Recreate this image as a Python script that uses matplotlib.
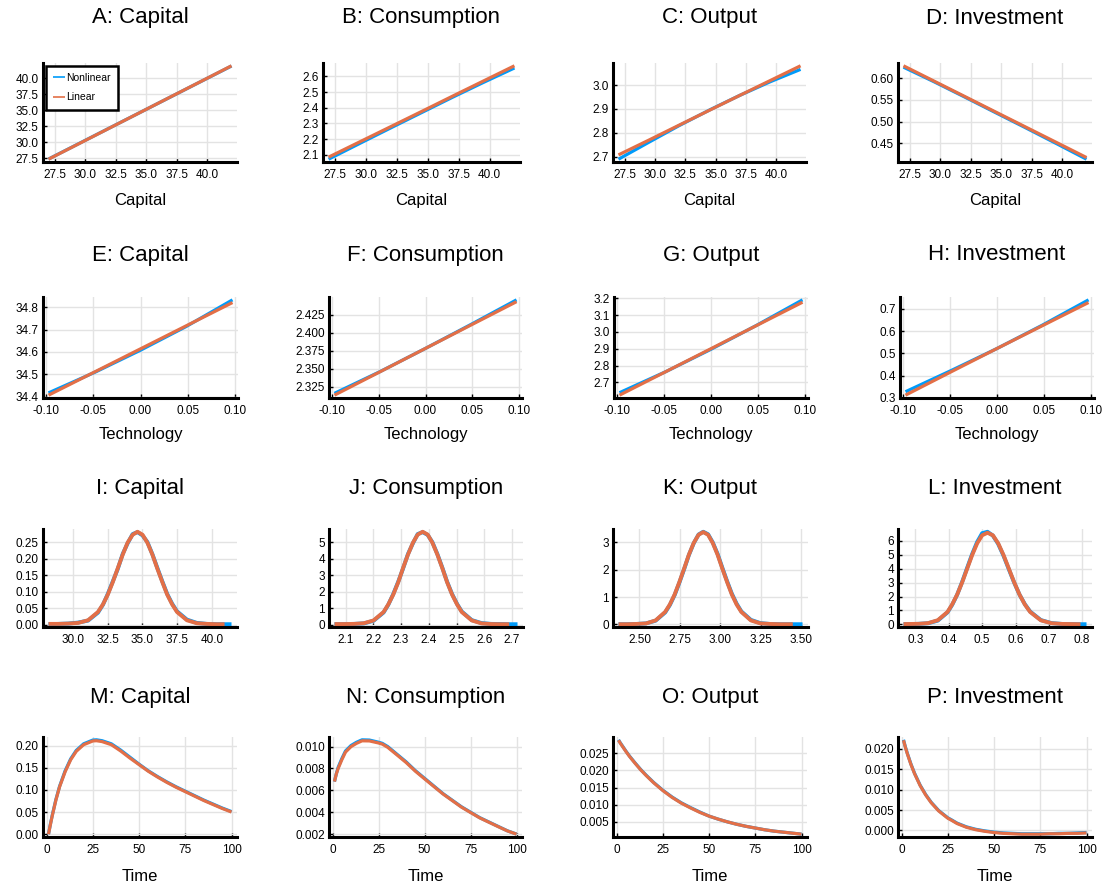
import matplotlib
matplotlib.use("Agg")
import matplotlib.pyplot as plt
from matplotlib.ticker import FixedLocator, FormatStrFormatter

plt.rcParams["font.family"] = ["Liberation Sans", "DejaVu Sans"]
plt.rcParams["axes.unicode_minus"] = False

BLUE = "#009BFA"
ORANGE = "#E36F47"

# ---------------- data ----------------
# Row 1: policy functions over capital
cap_grid = [27.0, 29.5, 32.0, 34.6, 37.0, 39.5, 42.0]
A_non = [27.40, 29.82, 32.24, 34.75, 37.07, 39.49, 41.90]
A_lin = [27.38, 29.80, 32.23, 34.75, 37.08, 39.50, 41.93]
B_non = [2.072, 2.172, 2.271, 2.373, 2.467, 2.562, 2.654]
B_lin = [2.085, 2.182, 2.279, 2.380, 2.474, 2.571, 2.668]
C_non = [2.689, 2.760, 2.830, 2.898, 2.957, 3.014, 3.066]
C_lin = [2.707, 2.769, 2.832, 2.897, 2.957, 3.019, 3.081]
D_non = [0.6256, 0.592, 0.557, 0.520, 0.486, 0.450, 0.4135]
D_lin = [0.6287, 0.5935, 0.5583, 0.5216, 0.4878, 0.4526, 0.4173]

# Row 2: policy functions over technology
tech_grid = [-0.097, -0.048, 0.0, 0.048, 0.097]
E_non = [34.418, 34.510, 34.608, 34.713, 34.832]
E_lin = [34.408, 34.512, 34.614, 34.716, 34.820]
F_non = [2.3155, 2.346, 2.378, 2.411, 2.4455]
F_lin = [2.313, 2.3458, 2.378, 2.4102, 2.443]
G_non = [2.6395, 2.764, 2.897, 3.038, 3.190]
G_lin = [2.625, 2.764, 2.9005, 3.037, 3.176]
H_non = [0.3274, 0.424, 0.522, 0.627, 0.741]
H_lin = [0.312, 0.4185, 0.522, 0.6245, 0.729]

# Row 3: ergodic densities
I_x = [28.26, 28.97, 29.68, 30.39, 31.10, 31.81, 32.17, 32.52, 32.88, 33.23, 33.59, 33.94, 34.30,
       34.65, 35.01, 35.36, 35.72, 36.07, 36.43, 36.78, 37.14, 37.49, 38.20, 38.91, 39.62, 40.33, 40.90]
I_x_non = I_x + [41.40]
I_lin = [0.002, 0.002, 0.003, 0.005, 0.013, 0.038, 0.061, 0.091, 0.129, 0.170, 0.212, 0.248, 0.272,
         0.281, 0.272, 0.248, 0.212, 0.170, 0.129, 0.091, 0.061, 0.038, 0.013, 0.004, 0.002, 0.001, 0.001]
I_non = [0.001, 0.002, 0.003, 0.006, 0.012, 0.036, 0.060, 0.093, 0.131, 0.168, 0.214, 0.246, 0.274,
         0.280, 0.270, 0.250, 0.213, 0.172, 0.131, 0.093, 0.063, 0.040, 0.015, 0.005, 0.002, 0.001, 0.001, 0.001]

J_x = [2.060, 2.095, 2.131, 2.166, 2.201, 2.237, 2.254, 2.272, 2.290, 2.307, 2.325, 2.343, 2.360,
       2.378, 2.396, 2.413, 2.431, 2.449, 2.466, 2.484, 2.502, 2.519, 2.555, 2.590, 2.625, 2.661, 2.690]
J_x_non = J_x + [2.720]
J_lin = [0.03, 0.03, 0.04, 0.08, 0.25, 0.76, 1.22, 1.82, 2.57, 3.41, 4.24, 4.96, 5.45,
         5.62, 5.45, 4.96, 4.24, 3.41, 2.57, 1.82, 1.22, 0.76, 0.25, 0.07, 0.03, 0.02, 0.02]
J_non = [0.02, 0.03, 0.04, 0.07, 0.23, 0.73, 1.20, 1.85, 2.60, 3.38, 4.27, 4.93, 5.48,
         5.60, 5.43, 4.99, 4.27, 3.44, 2.60, 1.85, 1.25, 0.79, 0.27, 0.09, 0.04, 0.03, 0.02, 0.02]

K_x = [2.370, 2.423, 2.482, 2.541, 2.600, 2.659, 2.688, 2.718, 2.747, 2.777, 2.806, 2.836, 2.866,
       2.895, 2.925, 2.954, 2.984, 3.013, 3.043, 3.072, 3.102, 3.131, 3.190, 3.249, 3.308, 3.367, 3.450]
K_x_non = K_x + [3.510]
K_lin = [0.01, 0.01, 0.02, 0.04, 0.15, 0.46, 0.73, 1.10, 1.55, 2.05, 2.55, 2.98, 3.28,
         3.38, 3.28, 2.98, 2.55, 2.05, 1.55, 1.10, 0.73, 0.46, 0.15, 0.04, 0.02, 0.01, 0.01]
K_non = [0.01, 0.01, 0.02, 0.04, 0.14, 0.44, 0.71, 1.08, 1.53, 2.03, 2.54, 2.97, 3.29,
         3.39, 3.30, 3.00, 2.58, 2.08, 1.58, 1.13, 0.76, 0.48, 0.17, 0.05, 0.02, 0.01, 0.01, 0.01]

L_x = [0.264, 0.290, 0.310, 0.338, 0.367, 0.396, 0.410, 0.425, 0.440, 0.455, 0.470, 0.485, 0.500,
       0.516, 0.532, 0.548, 0.564, 0.580, 0.596, 0.612, 0.628, 0.644, 0.676, 0.708, 0.740, 0.772, 0.795]
L_x_non = L_x + [0.813]
L_lin = [0.02, 0.03, 0.04, 0.09, 0.30, 0.89, 1.43, 2.14, 3.02, 4.00, 4.98, 5.82, 6.40,
         6.58, 6.40, 5.82, 4.98, 4.00, 3.02, 2.14, 1.43, 0.89, 0.29, 0.08, 0.03, 0.02, 0.01]
L_non = [0.01, 0.02, 0.04, 0.08, 0.27, 0.86, 1.40, 2.13, 3.05, 4.06, 5.05, 5.92, 6.55,
         6.65, 6.38, 5.78, 4.93, 3.96, 3.00, 2.14, 1.45, 0.92, 0.31, 0.09, 0.03, 0.02, 0.01, 0.01]

# Row 4: impulse responses
t_irf = [1, 2, 3, 5, 7, 10, 13, 16, 20, 25, 27, 30, 35, 40, 45, 50, 55, 60, 65, 70, 75, 80, 85, 90, 95, 100]
M_non = [0.0, 0.022, 0.042, 0.078, 0.108, 0.143, 0.170, 0.189, 0.204, 0.2125, 0.213, 0.211, 0.204,
         0.190, 0.174, 0.158, 0.143, 0.130, 0.118, 0.107, 0.097, 0.087, 0.077, 0.068, 0.059, 0.051]
M_lin = [0.0, 0.021, 0.041, 0.077, 0.107, 0.141, 0.168, 0.187, 0.202, 0.2105, 0.211, 0.209, 0.202,
         0.188, 0.172, 0.157, 0.142, 0.129, 0.117, 0.106, 0.096, 0.086, 0.076, 0.067, 0.058, 0.050]
N_non = [0.0068, 0.0075, 0.0081, 0.0089, 0.0096, 0.0101, 0.0104, 0.01062, 0.0106, 0.0104, 0.0103, 0.0100,
         0.0093, 0.0086, 0.0078, 0.0071, 0.0064, 0.0057, 0.0051, 0.0045, 0.0040, 0.0035, 0.0031, 0.0027,
         0.0023, 0.0020]
N_lin = [0.0068, 0.0075, 0.0080, 0.0088, 0.0095, 0.0100, 0.0103, 0.01053, 0.01052, 0.01033, 0.01023,
         0.00993, 0.00924, 0.00854, 0.00775, 0.00705, 0.00636, 0.00567, 0.00507, 0.00447, 0.00397,
         0.00348, 0.00308, 0.00268, 0.00229, 0.00199]
O_non = [0.0290, 0.0281, 0.0273, 0.0257, 0.0242, 0.0222, 0.0203, 0.0186, 0.0165, 0.0142, 0.0134, 0.0122,
         0.0105, 0.0091, 0.0078, 0.0066, 0.0057, 0.0049, 0.0042, 0.0036, 0.0031, 0.0026, 0.0022, 0.0019,
         0.0016, 0.0013]
O_lin = [0.0289, 0.0280, 0.0272, 0.0256, 0.0241, 0.0221, 0.0202, 0.0185, 0.0164, 0.0141, 0.0133, 0.0121,
         0.0104, 0.0090, 0.0077, 0.0066, 0.0057, 0.0049, 0.0042, 0.0036, 0.0031, 0.0026, 0.0022, 0.0019,
         0.0016, 0.0013]
P_non = [0.0222, 0.0205, 0.0190, 0.0163, 0.0140, 0.0111, 0.0088, 0.0069, 0.0049, 0.0031, 0.0026, 0.0018,
         0.0009, 0.0003, -0.0001, -0.0004, -0.0006, -0.0007, -0.0008, -0.0008, -0.0008, -0.0008, -0.0007,
         -0.0007, -0.0006, -0.0005]
P_lin = [0.0221, 0.0204, 0.0189, 0.0162, 0.0139, 0.0110, 0.0087, 0.0068, 0.0048, 0.0030, 0.0025, 0.0017,
         0.0008, 0.0002, -0.0002, -0.0005, -0.0007, -0.0008, -0.0009, -0.0009, -0.0009, -0.0008, -0.0008,
         -0.0007, -0.0007, -0.0006]

titles = ["A: Capital", "B: Consumption", "C: Output", "D: Investment",
          "E: Capital", "F: Consumption", "G: Output", "H: Investment",
          "I: Capital", "J: Consumption", "K: Output", "L: Investment",
          "M: Capital", "N: Consumption", "O: Output", "P: Investment"]

# ---------------- figure ----------------
W, H = 1103, 888
fig = plt.figure(figsize=(W / 100, H / 100), dpi=100)

def add_ax(l, r, t, b):
    return fig.add_axes([l / W, 1 - b / H, (r - l) / W, (b - t) / H])

rows = [(63, 162), (297, 398), (529, 627), (737, 837)]
cols = [[(43, 237), (323, 520), (613, 806), (898, 1092)],
        [(43, 238), (329, 522), (614, 808), (900, 1094)],
        [(43, 237), (329, 523), (613, 808), (898, 1092)],
        [(43, 237), (329, 522), (613, 807), (898, 1092)]]
title_y = [18, 255, 488, 697]
xlab_y = [201, 434, None, 876]
xlabels = ["Capital", "Technology", None, "Time"]

series = [
    [(cap_grid, A_non, cap_grid, A_lin), (cap_grid, B_non, cap_grid, B_lin),
     (cap_grid, C_non, cap_grid, C_lin), (cap_grid, D_non, cap_grid, D_lin)],
    [(tech_grid, E_non, tech_grid, E_lin), (tech_grid, F_non, tech_grid, F_lin),
     (tech_grid, G_non, tech_grid, G_lin), (tech_grid, H_non, tech_grid, H_lin)],
    [(I_x_non, I_non, I_x, I_lin), (J_x_non, J_non, J_x, J_lin),
     (K_x_non, K_non, K_x, K_lin), (L_x_non, L_non, L_x, L_lin)],
    [(t_irf, M_non, t_irf, M_lin), (t_irf, N_non, t_irf, N_lin),
     (t_irf, O_non, t_irf, O_lin), (t_irf, P_non, t_irf, P_lin)],
]

cap_ticks = ([27.5, 30.0, 32.5, 35.0, 37.5, 40.0], "%.1f")
tech_ticks = ([-0.10, -0.05, 0.0, 0.05, 0.10], "%.2f")
time_ticks = ([0, 25, 50, 75, 100], "%d")
xticks = [
    [cap_ticks] * 4,
    [tech_ticks] * 4,
    [([30.0, 32.5, 35.0, 37.5, 40.0], "%.1f"), ([2.1, 2.2, 2.3, 2.4, 2.5, 2.6, 2.7], "%.1f"),
     ([2.5, 2.75, 3.0, 3.25, 3.5], "%.2f"), ([0.3, 0.4, 0.5, 0.6, 0.7, 0.8], "%.1f")],
    [time_ticks] * 4,
]
yticks = [
    [cap_ticks, ([2.1, 2.2, 2.3, 2.4, 2.5, 2.6], "%.1f"), ([2.7, 2.8, 2.9, 3.0], "%.1f"),
     ([0.45, 0.50, 0.55, 0.60], "%.2f")],
    [([34.4, 34.5, 34.6, 34.7, 34.8], "%.1f"), ([2.325, 2.350, 2.375, 2.400, 2.425], "%.3f"),
     ([2.7, 2.8, 2.9, 3.0, 3.1, 3.2], "%.1f"), ([0.3, 0.4, 0.5, 0.6, 0.7], "%.1f")],
    [([0.0, 0.05, 0.10, 0.15, 0.20, 0.25], "%.2f"), ([0, 1, 2, 3, 4, 5], "%d"),
     ([0, 1, 2, 3], "%d"), ([0, 1, 2, 3, 4, 5, 6], "%d")],
    [([0.0, 0.05, 0.10, 0.15, 0.20], "%.2f"), ([0.002, 0.004, 0.006, 0.008, 0.010], "%.3f"),
     ([0.005, 0.010, 0.015, 0.020, 0.025], "%.3f"), ([0.0, 0.005, 0.010, 0.015, 0.020], "%.3f")],
]

for r in range(4):
    t, b = rows[r]
    for c in range(4):
        l, rr = cols[r][c]
        ax = add_ax(l, rr, t, b)
        xn, yn, xl, yl = series[r][c]
        lw = 2.8 if r == 2 else 2.3
        ax.plot(xn, yn, color=BLUE, lw=lw, label="Nonlinear", solid_capstyle="butt")
        ax.plot(xl, yl, color=ORANGE, lw=lw, label="Linear", solid_capstyle="butt")
        ax.margins(x=0.03, y=0.03)
        ax.autoscale_view()
        for s in ["top", "right"]:
            ax.spines[s].set_visible(False)
        for s in ["left", "bottom"]:
            ax.spines[s].set_linewidth(2.2)
            ax.spines[s].set_color("black")
        tx, fx = xticks[r][c]
        ty, fy = yticks[r][c]
        ax.xaxis.set_major_locator(FixedLocator(tx))
        ax.xaxis.set_major_formatter(FormatStrFormatter(fx))
        ax.yaxis.set_major_locator(FixedLocator(ty))
        ax.yaxis.set_major_formatter(FormatStrFormatter(fy))
        ax.tick_params(direction="in", length=3, width=1, labelsize=8.5, colors="black")
        ax.tick_params(axis="x", pad=4.8)
        ax.tick_params(axis="y", pad=3)
        ax.grid(True, color="#e3e3e3", lw=1.0)
        ax.set_axisbelow(True)
        cx = (l + rr) / 2
        fig.text(cx / W, 1 - title_y[r] / H, titles[4 * r + c], ha="center", va="center",
                 fontsize=16, color="black")
        if xlabels[r]:
            fig.text(cx / W, 1 - xlab_y[r] / H, xlabels[r], ha="center", va="center",
                     fontsize=12, color="black")
        if r == 0 and c == 0:
            leg = ax.legend(loc="upper left", fontsize=7.5, frameon=True, fancybox=False,
                            handlelength=1.2, handletextpad=0.1, borderpad=0.7,
                            labelspacing=0.9, borderaxespad=0.25)
            leg.get_frame().set_edgecolor("black")
            leg.get_frame().set_linewidth(1.8)
            leg.get_frame().set_alpha(1.0)
            for h in leg.get_lines():
                h.set_linewidth(1.2)

fig.savefig("out.png", dpi=100, facecolor="white")
